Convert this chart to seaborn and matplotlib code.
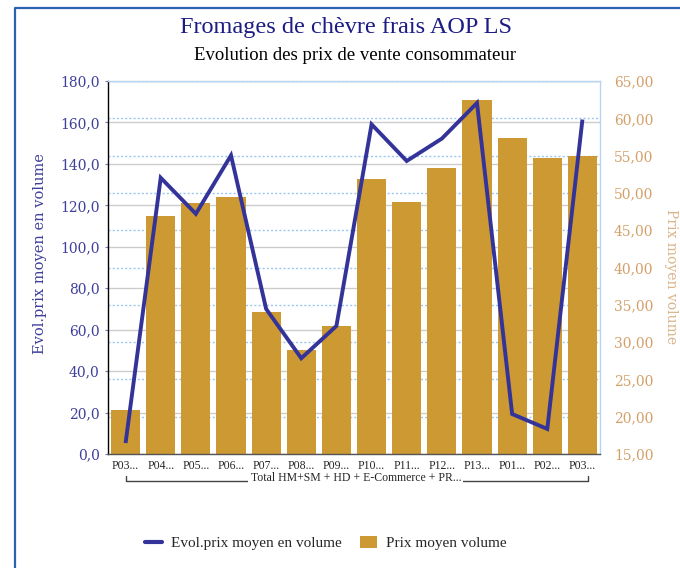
import numpy as np
import matplotlib
matplotlib.use("Agg")
import matplotlib.pyplot as plt
import matplotlib.transforms as mtransforms
from matplotlib.lines import Line2D
from matplotlib.patches import Patch
import seaborn as sns

# Périodes (libellés tronqués tels qu'affichés) et valeurs
periodes = ["P03...", "P04...", "P05...", "P06...", "P07...", "P08...", "P09...",
            "P10...", "P11...", "P12...", "P13...", "P01...", "P02...", "P03..."]
prix_moyen = [20.9, 46.9, 48.6, 49.4, 34.1, 29.0, 32.1,
              51.8, 48.8, 53.4, 62.4, 57.3, 54.7, 54.9]
evol_prix = [5.3, 133.3, 115.9, 144.1, 70.0, 46.2, 61.8,
             159.1, 141.4, 152.2, 169.4, 19.3, 12.1, 161.4]
groupe = "Total HM+SM + HD + E-Commerce + PR..."
titre = "Fromages de chèvre frais AOP LS"
sous_titre = "Evolution des prix de vente consommateur"
lab_evol = "Evol.prix moyen en volume"
lab_prix = "Prix moyen volume"

sns.set_style("white")
plt.rcParams["font.family"] = ["DejaVu Serif"]

C_BAR = "#CC9933"
C_LINE = "#333399"
C_LEFT = "#3f3f9c"
C_RIGHT = "#d4a06a"
SERIF_N = ["Liberation Serif", "DejaVu Serif"]

W, H = 680, 568
fig = plt.figure(figsize=(W / 100, H / 100), dpi=100)
fig.patch.set_facecolor("white")

x0, x1, ytop, ybot = 108, 600, 81, 454
ax = fig.add_axes([x0 / W, 1 - ybot / H, (x1 - x0) / W, (ybot - ytop) / H])
pos = np.arange(len(periodes))

# Axe des barres (échelle de droite)
axb = ax.twinx()
sns.barplot(x=pos, y=prix_moyen, ax=axb, color=C_BAR, saturation=1,
            width=0.83, linewidth=0, zorder=2)
axb.set_ylim(15, 65)
axb.set_yticks(np.arange(15, 66, 5))
axb.set_yticklabels([f"{v:.2f}".replace(".", ",") for v in np.arange(15, 66, 5)],
                    color=C_RIGHT, fontsize=10)
axb.tick_params(axis="y", length=0, pad=10)
axb.yaxis.grid(True, color="#9cc8f0", linestyle=(0, (1.5, 1.5)), linewidth=1)
axb.set_axisbelow(True)
axb.set_xlabel("")
axb.set_ylabel("")
axb.patch.set_visible(False)
for s in axb.spines.values():
    s.set_visible(False)

# Axe de la courbe (échelle de gauche), au-dessus des barres
axl = ax.twinx()
sns.lineplot(x=pos, y=evol_prix, ax=axl, color=C_LINE, linewidth=2.8, zorder=3)
for ln in axl.get_lines():
    ln.set_solid_joinstyle("miter")
    ln.set_solid_capstyle("butt")
axl.set_ylim(0, 180)
axl.yaxis.set_visible(False)
axl.set_xlabel("")
axl.set_ylabel("")
axl.patch.set_visible(False)
axl.spines["left"].set_color("black")
axl.spines["bottom"].set_color("#555555")
axl.spines["top"].set_color("#b5d3f2")
axl.spines["right"].set_color("#b5d3f2")
for s in axl.spines.values():
    s.set_linewidth(1)

# Axe de base : graduations de gauche et grille grise
ax.set_ylim(0, 180)
ax.set_yticks(np.arange(0, 181, 20))
ax.set_yticklabels([f"{v:.1f}".replace(".", ",") for v in np.arange(0, 181, 20)],
                   color=C_LEFT, fontsize=10)
ax.tick_params(axis="y", length=2, color="#7777bb", pad=4)
ax.yaxis.grid(True, color="#cccccc", linewidth=1)
ax.set_axisbelow(True)
for s in ax.spines.values():
    s.set_visible(False)
ax.set_xlim(-0.5, len(periodes) - 0.5)
ax.set_xticks(pos)
ax.set_xticklabels(periodes, fontsize=8.5, family=SERIF_N)
ax.tick_params(axis="x", length=0, pad=4)
ax.set_xlabel("")

# Accolade de regroupement sous l'axe
tr = mtransforms.blended_transform_factory(ax.transData, ax.transAxes)
yb, ye = -0.072, -0.058
ax.add_line(Line2D([0, 0, 13.15, 13.15], [ye, yb, yb, ye], transform=tr,
                   color="#444444", lw=1, clip_on=False))
ax.text((len(periodes) - 1) / 2 + 0.05, -0.0645, groupe, transform=tr, ha="center",
        va="center", fontsize=8.5, family=SERIF_N,
        bbox=dict(facecolor="white", edgecolor="none", pad=1.5))

# Titres
fig.text(346 / W, 1 - 27 / H, titre, ha="center", va="center",
         fontsize=17.5, color="#1c1c84", family=SERIF_N)
fig.text(355 / W, 1 - 56 / H, sous_titre, ha="center", va="center",
         fontsize=13.5, color="black", family=SERIF_N)

# Titres des axes
fig.text(40 / W, 1 - 254 / H, lab_evol, rotation=90, ha="center", va="center",
         fontsize=10.5, color=C_LEFT)
fig.text(671 / W, 1 - 277 / H, lab_prix, rotation=270, ha="center", va="center",
         fontsize=10, color="#dab48a")

# Légende
handles = [Line2D([], [], color=C_LINE, lw=3),
           Patch(facecolor=C_BAR, edgecolor="none")]
fig.legend(handles, [lab_evol, lab_prix], loc="center",
           bbox_to_anchor=(326 / W, 1 - 543 / H), ncol=2, frameon=False,
           handlelength=1.1, handleheight=0.9, handletextpad=0.6,
           columnspacing=1.2, prop={"family": SERIF_N, "size": 11})

# Cadre du panneau
fig.add_artist(Line2D([15 / W, 15 / W, 1], [0, 1 - 8 / H, 1 - 8 / H],
                      transform=fig.transFigure, color="#2a62b0", lw=1.6))

fig.savefig("out.png", dpi=100)
